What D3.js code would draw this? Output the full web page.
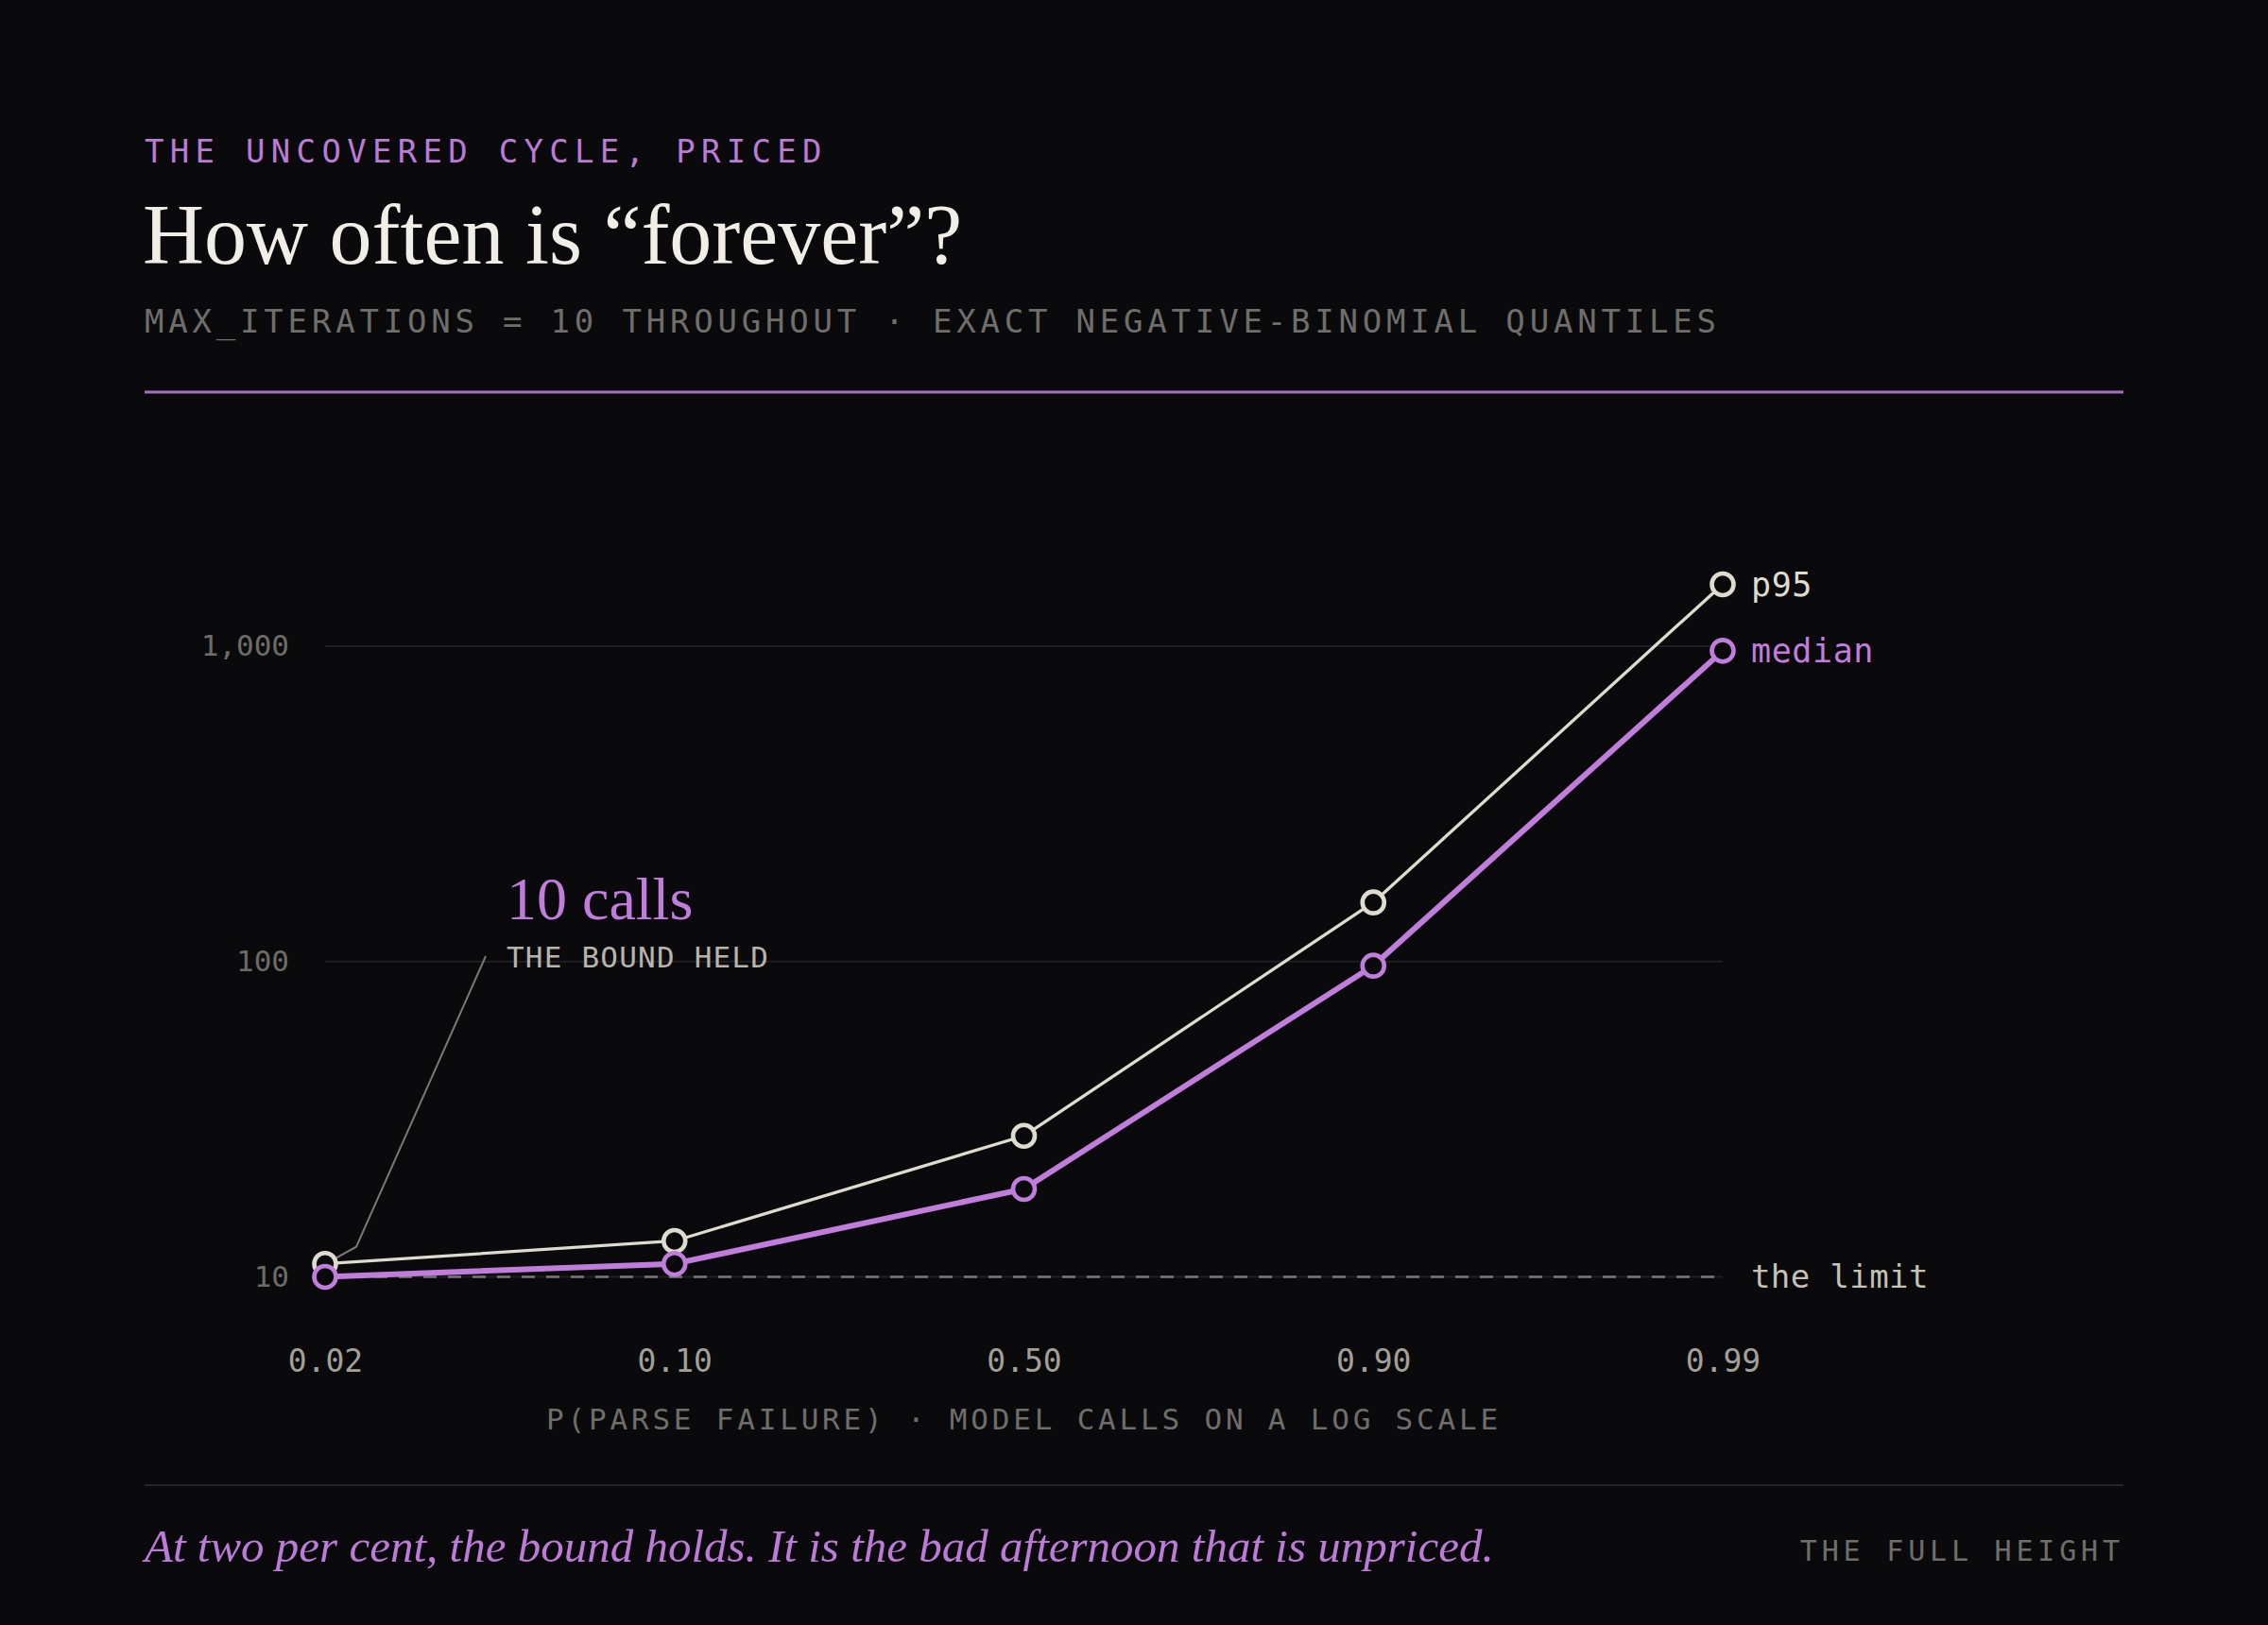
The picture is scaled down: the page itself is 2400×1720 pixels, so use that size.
<!DOCTYPE html>
<html>
<head>
<meta charset="utf-8">
<script src="https://cdn.jsdelivr.net/npm/d3@7"></script>
<style>
  html, body { margin: 0; padding: 0; background: #0a0a0c; }
  svg { display: block; }
  .mono { font-family: "DejaVu Sans Mono", monospace; }
  .serif { font-family: "Liberation Serif", "DejaVu Serif", serif; }
</style>
</head>
<body>
<svg id="chart" width="2400" height="1720"></svg>
<script>
// p(parse failure) on the x axis, model calls on the y axis
const PROBS = ['0.02', '0.10', '0.50', '0.90', '0.99'];
const MEDIAN_CALLS = [10, 11, 19, 97, 967];
const P95_CALLS = [11, 13, 28, 154, 1572];
const Y_TICKS = [10, 100, 1000];
const LIMIT = 10; // MAX_ITERATIONS

const W = 2400, H = 1720;
const LEFT = 153, RIGHT = 2247;

const PURPLE = '#c07ddb';
const CREAM = '#dedbcf';

const svg = d3.select('#chart');
svg.append('rect').attr('width', W).attr('height', H).attr('fill', '#0a0a0c');

// scales: equal spacing for the probabilities, log for the calls
const xScale = d3.scalePoint().domain(PROBS).range([344, 1823]);
const yScale = d3.scaleLog().domain([10, 1000]).range([1351.5, 684]);

// ---- header
svg.append('text').classed('mono', true)
  .attr('x', LEFT).attr('y', 172)
  .attr('fill', '#b97bd4').attr('font-size', 34).attr('letter-spacing', 6.3)
  .text('THE UNCOVERED CYCLE, PRICED');

svg.append('text').classed('serif', true)
  .attr('x', LEFT - 2).attr('y', 279)
  .attr('fill', '#f0eee6').attr('font-size', 90)
  .text('How often is \u201cforever\u201d?');

svg.append('text').classed('mono', true)
  .attr('x', LEFT).attr('y', 352)
  .attr('fill', '#6f6e6a').attr('font-size', 34).attr('letter-spacing', 4.8)
  .text('MAX_ITERATIONS = 10 THROUGHOUT \u00b7 EXACT NEGATIVE-BINOMIAL QUANTILES');

svg.append('line')
  .attr('x1', LEFT).attr('x2', RIGHT).attr('y1', 415).attr('y2', 415)
  .attr('stroke', '#a96cc4').attr('stroke-width', 3);

// ---- gridlines
svg.append('g')
  .selectAll('line')
  .data(Y_TICKS)
  .enter()
  .append('line')
  .attr('x1', xScale(PROBS[0])).attr('x2', xScale(PROBS[PROBS.length - 1]))
  .attr('y1', d => yScale(d)).attr('y2', d => yScale(d))
  .attr('stroke', '#1f1f23').attr('stroke-width', 2);

// the limit, dashed
svg.append('line')
  .attr('x1', xScale(PROBS[0])).attr('x2', xScale(PROBS[PROBS.length - 1]))
  .attr('y1', yScale(LIMIT)).attr('y2', yScale(LIMIT))
  .attr('stroke', '#78777a').attr('stroke-width', 2.5)
  .attr('stroke-dasharray', '14 12');

svg.append('text').classed('mono', true)
  .attr('x', 1853).attr('y', yScale(LIMIT)).attr('dy', '0.35em')
  .attr('fill', '#c4c1b7').attr('font-size', 34).attr('letter-spacing', 0.4)
  .text('the limit');

// ---- axes (no domain, no ticks, just the labels)
const yAxis = svg.append('g')
  .attr('transform', `translate(${xScale(PROBS[0])},0)`)
  .call(d3.axisLeft(yScale).tickValues(Y_TICKS).tickFormat(d3.format(',')).tickSize(0).tickPadding(38));
yAxis.select('.domain').remove();
yAxis.selectAll('text')
  .attr('font-family', '"DejaVu Sans Mono", monospace')
  .attr('font-size', 31).attr('fill', '#6d6c68');

const xAxis = svg.append('g')
  .attr('transform', `translate(0,${yScale(LIMIT)})`)
  .call(d3.axisBottom(xScale).tickSize(0).tickPadding(77));
xAxis.select('.domain').remove();
xAxis.selectAll('text')
  .attr('font-family', '"DejaVu Sans Mono", monospace')
  .attr('font-size', 33).attr('fill', '#a3a098');

svg.append('text').classed('mono', true)
  .attr('x', xScale('0.50')).attr('y', 1513)
  .attr('text-anchor', 'middle')
  .attr('fill', '#6f6e6a').attr('font-size', 31).attr('letter-spacing', 3.8)
  .text('P(PARSE FAILURE) \u00b7 MODEL CALLS ON A LOG SCALE');

// ---- annotation + leader line (drawn first so the dots sit on top)
const ax = xScale(PROBS[0]), ay = yScale(P95_CALLS[0]);
svg.append('polyline')
  .attr('points', [[ax + 6, ay - 3], [ax + 33, ay - 18], [514, 1012]].map(p => p.join(',')).join(' '))
  .attr('fill', 'none').attr('stroke', '#7a7975').attr('stroke-width', 2);

svg.append('text').classed('serif', true)
  .attr('x', 536).attr('y', 973)
  .attr('fill', PURPLE).attr('font-size', 64)
  .text(`${MEDIAN_CALLS[0]} calls`);

svg.append('text').classed('mono', true)
  .attr('x', 536).attr('y', 1024)
  .attr('fill', '#b7b4ac').attr('font-size', 31).attr('letter-spacing', 1.2)
  .text('THE BOUND HELD');

// ---- series
const line = d3.line().x((d, i) => xScale(PROBS[i])).y(d => yScale(d));

const series = [
  {name: 'p95', values: P95_CALLS, color: CREAM, width: 3.3},
  {name: 'median', values: MEDIAN_CALLS, color: PURPLE, width: 6}
];

series.forEach(s => {
  svg.append('path')
    .datum(s.values)
    .attr('d', line)
    .attr('fill', 'none')
    .attr('stroke', s.color)
    .attr('stroke-width', s.width)
    .attr('stroke-linejoin', 'round');

  svg.append('g')
    .selectAll('circle')
    .data(s.values)
    .enter()
    .append('circle')
    .attr('cx', (d, i) => xScale(PROBS[i]))
    .attr('cy', d => yScale(d))
    .attr('r', 11.5)
    .attr('fill', '#0a0a0c')
    .attr('stroke', s.color)
    .attr('stroke-width', 4.6);

  // end label
  const last = s.values[s.values.length - 1];
  svg.append('text').classed('mono', true)
    .attr('x', 1853).attr('y', yScale(last)).attr('dy', '0.35em')
    .attr('fill', s.color).attr('font-size', 35).attr('letter-spacing', 0.6)
    .text(s.name);
});

// ---- footer
svg.append('line')
  .attr('x1', LEFT).attr('x2', RIGHT).attr('y1', 1572).attr('y2', 1572)
  .attr('stroke', '#242427').attr('stroke-width', 2);

svg.append('text').classed('serif', true)
  .attr('x', LEFT).attr('y', 1653)
  .attr('fill', '#bd7bd8').attr('font-size', 49).attr('font-style', 'italic')
  .text('At two per cent, the bound holds. It is the bad afternoon that is unpriced.');

svg.append('text').classed('mono', true)
  .attr('x', 2243 + 4.8).attr('y', 1652)
  .attr('text-anchor', 'end')
  .attr('fill', '#6f6e6a').attr('font-size', 30).attr('letter-spacing', 4.8)
  .text('THE FULL HEIGHT');
</script>
</body>
</html>
